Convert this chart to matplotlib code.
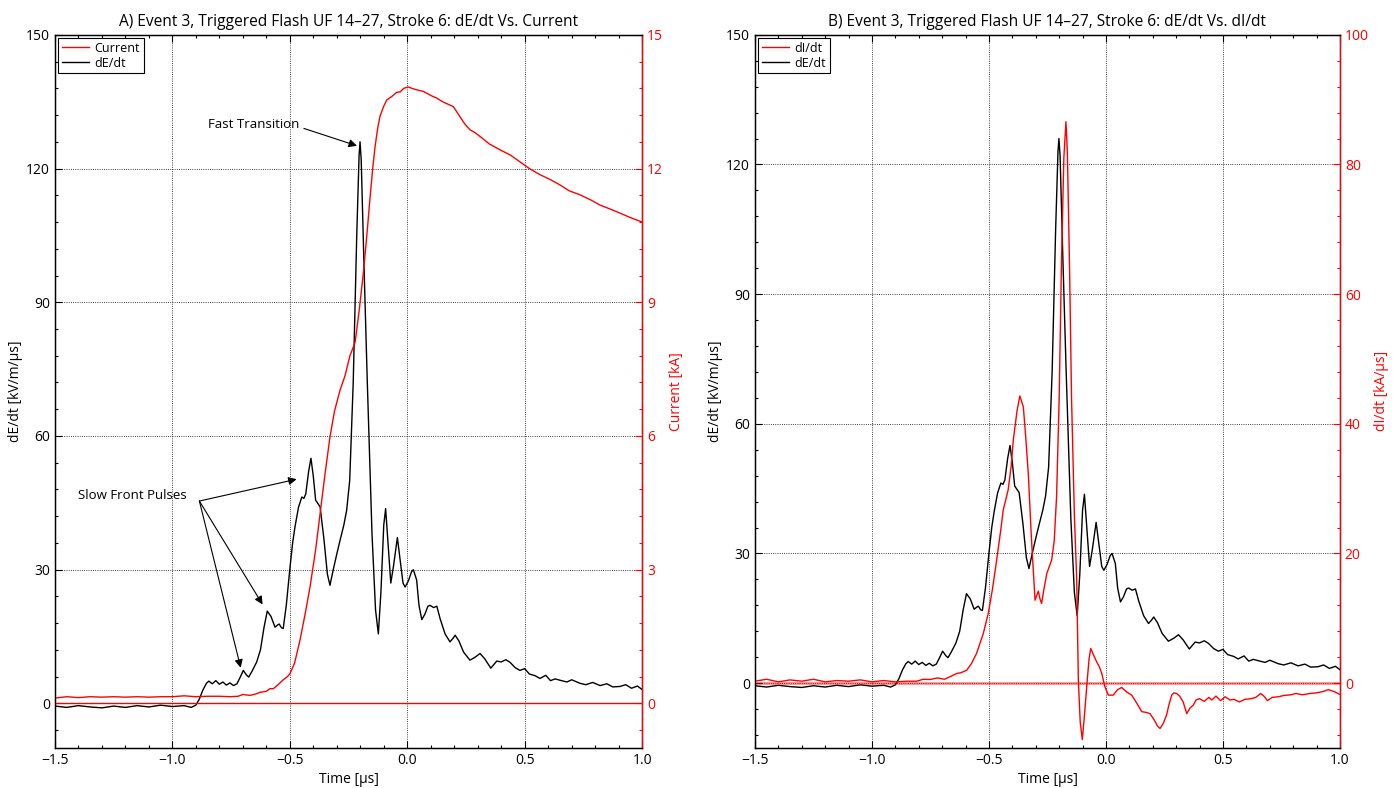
import matplotlib
matplotlib.use("Agg")
import matplotlib.pyplot as plt
from matplotlib.ticker import MultipleLocator
from matplotlib.lines import Line2D

plt.rcParams['font.family'] = ['Open Sans', 'DejaVu Sans']

# dE/dt waveform (kV/m/us), shared by both panels
t_de = [-1.5, -1.45, -1.4, -1.35, -1.3, -1.25, -1.2, -1.15, -1.1, -1.05, -1.0, -0.95,
        -0.92, -0.90, -0.885, -0.87, -0.855, -0.845, -0.83, -0.815, -0.80, -0.785, -0.77,
        -0.755, -0.74, -0.725, -0.71, -0.698, -0.685, -0.675, -0.66, -0.641, -0.625, -0.61,
        -0.596, -0.58, -0.563, -0.552, -0.545, -0.536, -0.528, -0.515, -0.499, -0.488,
        -0.478, -0.463, -0.449, -0.44, -0.432, -0.42, -0.41, -0.40, -0.39, -0.38, -0.371,
        -0.355, -0.34, -0.329, -0.315, -0.30, -0.286, -0.27, -0.258, -0.245, -0.23, -0.215,
        -0.205, -0.201, -0.196, -0.185, -0.170, -0.15, -0.135, -0.123, -0.112, -0.1, -0.092,
        -0.082, -0.07, -0.058, -0.042, -0.03, -0.018, -0.009, 0.005, 0.018, 0.026, 0.040,
        0.05, 0.062, 0.075, 0.088, 0.097, 0.112, 0.126, 0.14, 0.161, 0.182, 0.195, 0.204,
        0.22, 0.24, 0.267, 0.29, 0.31, 0.33, 0.356, 0.381, 0.40, 0.42, 0.438, 0.46, 0.48,
        0.50, 0.52, 0.545, 0.565, 0.59, 0.61, 0.63, 0.65, 0.68, 0.70, 0.736, 0.76, 0.79,
        0.821, 0.85, 0.875, 0.906, 0.93, 0.955, 0.98, 1.0]
de_dt = [-0.6, -0.9, -0.5, -0.8, -1.0, -0.6, -0.9, -0.5, -0.8, -0.4, -0.7, -0.5,
         -0.9, -0.4, 1.0, 3.0, 4.5, 5.0, 4.4, 5.1, 4.3, 4.8, 4.1,
         4.6, 4.0, 4.4, 6.0, 7.4, 6.4, 5.9, 7.3, 9.3, 12.0, 17.0,
         20.7, 19.5, 17.1, 17.6, 17.8, 17.0, 16.8, 22.0, 30.6, 36.0,
         39.6, 44.0, 46.3, 46.0, 47.0, 52.0, 55.0, 51.0, 45.6, 44.8, 44.1,
         37.0, 29.0, 26.5, 30.0, 33.5, 36.6, 40.0, 43.3, 50.0, 72.0, 105.0,
         123.0, 126.0, 122.0, 100.0, 72.0, 38.0, 21.0, 15.6, 25.0, 40.0, 43.7,
         36.0, 27.0, 31.0, 37.2, 32.0, 27.0, 26.1, 27.5, 29.5, 30.0, 27.7,
         22.0, 18.8, 20.0, 21.8, 22.0, 21.5, 21.8, 19.0, 15.6, 13.8, 14.6, 15.3,
         14.0, 11.5, 9.7, 10.4, 11.2, 10.0, 7.9, 9.5, 9.3, 9.8, 9.2, 8.0, 7.4,
         7.8, 6.6, 6.2, 5.6, 6.3, 5.1, 5.5, 5.2, 4.8, 5.3, 4.5, 4.2, 4.7,
         4.0, 4.4, 3.7, 3.8, 4.2, 3.4, 3.9, 3.1]

# channel-base current (kA), panel A
t_cur = [-1.5, -1.45, -1.4, -1.35, -1.3, -1.25, -1.2, -1.15, -1.1, -1.05, -1.0, -0.95,
         -0.9, -0.85, -0.8, -0.755, -0.72, -0.70, -0.67, -0.645, -0.627, -0.60, -0.585,
         -0.570, -0.55, -0.528, -0.510, -0.499, -0.48, -0.457, -0.435, -0.414, -0.39,
         -0.371, -0.35, -0.329, -0.31, -0.286, -0.265, -0.244, -0.222, -0.205, -0.187,
         -0.172, -0.158, -0.147, -0.137, -0.126, -0.116, -0.10, -0.087, -0.065, -0.045,
         -0.03, -0.015, 0.005, 0.025, 0.045, 0.069, 0.09, 0.108, 0.126, 0.15, 0.175,
         0.196, 0.22, 0.245, 0.267, 0.29, 0.31, 0.35, 0.395, 0.44, 0.48, 0.52, 0.566,
         0.61, 0.651, 0.69, 0.736, 0.78, 0.821, 0.86, 0.906, 0.95, 1.0]
current = [0.12, 0.15, 0.13, 0.15, 0.14, 0.15, 0.14, 0.15, 0.14, 0.15, 0.15, 0.17,
           0.15, 0.16, 0.16, 0.15, 0.16, 0.20, 0.18, 0.21, 0.25, 0.27, 0.33,
           0.33, 0.42, 0.53, 0.60, 0.67, 0.90, 1.41, 2.0, 2.61, 3.45,
           4.26, 5.15, 5.98, 6.55, 7.03, 7.35, 7.8, 8.1, 8.8, 9.65,
           10.5, 11.37, 12.0, 12.49, 12.9, 13.17, 13.4, 13.54, 13.62, 13.71,
           13.72, 13.8, 13.83, 13.79, 13.76, 13.73, 13.67, 13.62, 13.58, 13.5, 13.44,
           13.39, 13.2, 13.0, 12.87, 12.8, 12.72, 12.55, 12.42, 12.3, 12.15, 12.0, 11.86,
           11.75, 11.63, 11.5, 11.41, 11.3, 11.18, 11.1, 11.0, 10.9, 10.8]

# current derivative (kA/us), panel B
t_di = [-1.5, -1.45, -1.4, -1.35, -1.3, -1.25, -1.2, -1.15, -1.1, -1.05, -1.0, -0.95,
        -0.9, -0.85, -0.809, -0.78, -0.752, -0.72, -0.69, -0.667, -0.638, -0.62, -0.595,
        -0.575, -0.553, -0.524, -0.503, -0.485, -0.467, -0.45, -0.439, -0.418, -0.405,
        -0.396, -0.38, -0.368, -0.353, -0.343, -0.332, -0.318, -0.303, -0.296, -0.289,
        -0.282, -0.275, -0.265, -0.253, -0.232, -0.221, -0.211, -0.200, -0.19, -0.18,
        -0.171, -0.165, -0.156, -0.147, -0.135, -0.125, -0.118, -0.11, -0.101, -0.092,
        -0.080, -0.072, -0.065, -0.055, -0.040, -0.028, -0.018, -0.005, 0.01, 0.031,
        0.05, 0.067, 0.09, 0.11, 0.13, 0.153, 0.17, 0.188, 0.205, 0.22, 0.231, 0.245,
        0.259, 0.27, 0.281, 0.29, 0.302, 0.315, 0.33, 0.345, 0.36, 0.373, 0.385, 0.399,
        0.42, 0.44, 0.452, 0.47, 0.49, 0.509, 0.53, 0.547, 0.57, 0.594, 0.62, 0.64,
        0.661, 0.675, 0.690, 0.71, 0.737, 0.76, 0.79, 0.812, 0.84, 0.870, 0.9, 0.927,
        0.95, 0.975, 1.0]
di_dt = [0.3, 0.6, 0.2, 0.5, 0.3, 0.6, 0.2, 0.4, 0.3, 0.5, 0.2, 0.4,
         0.2, 0.3, 0.3, 0.6, 0.56, 0.8, 0.6, 0.98, 1.49, 1.6, 2.0,
         3.0, 4.58, 7.67, 10.76, 14.5, 19.0, 23.5, 26.7, 29.8, 33.5,
         37.5, 42.0, 44.3, 42.6, 38.0, 32.4, 22.0, 12.8, 13.5, 14.2,
         13.0, 12.3, 14.5, 16.9, 19.0, 22.0, 28.8, 43.8, 65.0, 81.0,
         86.6, 82.0, 65.0, 43.8, 26.0, 15.9, 0.46, -6.0, -8.7, -5.0,
         0.46, 3.8, 5.35, 4.5, 3.3, 2.5, 1.5, -0.5, -1.85, -1.85,
         -1.0, -0.67, -1.4, -1.85, -3.0, -4.4, -4.5, -4.7, -5.6, -6.6, -7.0, -6.2,
         -4.9, -3.2, -1.85, -1.5, -1.6, -2.0, -2.9, -4.7, -3.8, -3.4, -2.6, -2.4,
         -2.8, -2.2, -2.6, -2.0, -2.7, -2.1, -2.6, -2.5, -2.9, -2.5, -2.4, -2.2,
         -1.6, -2.0, -2.7, -2.2, -2.1, -1.9, -1.8, -1.6, -1.8, -1.6, -1.5, -1.3,
         -1.0, -1.3, -1.75]

TICK_FS = 10
ARROW = dict(arrowstyle='-|>', color='k', lw=0.8, mutation_scale=12, shrinkA=0, shrinkB=0)


def style_axes(ax, tw, ylim, tw_ylim, tw_major, tw_minor, tw_label):
    ax.set_xlim(-1.5, 1.0)
    ax.set_ylim(*ylim)
    tw.set_ylim(*tw_ylim)
    ax.xaxis.set_major_locator(MultipleLocator(0.5))
    ax.xaxis.set_minor_locator(MultipleLocator(0.1))
    ax.yaxis.set_minor_locator(MultipleLocator(6))
    tw.yaxis.set_minor_locator(MultipleLocator(tw_minor))
    ax.set_yticks([0, 30, 60, 90, 120, 150])
    tw.set_yticks([v * tw_major for v in range(0, 6)])
    ax.tick_params(which='both', direction='in', top=True, right=False,
                   labelsize=TICK_FS, width=0.8)
    ax.tick_params(which='major', length=5)
    ax.tick_params(which='minor', length=2.5)
    tw.tick_params(which='both', direction='in', colors='red', labelsize=TICK_FS, width=0.8)
    tw.tick_params(which='major', length=5)
    tw.tick_params(which='minor', length=2.5)
    tw.spines['right'].set_color('red')
    for sp in ax.spines.values():
        sp.set_linewidth(1.0)
    ax.grid(True, which='major', color='k', linestyle=':', linewidth=0.6)
    ax.set_xlabel('Time [µs]', fontsize=TICK_FS, labelpad=3)
    ax.set_ylabel('dE/dt [kV/m/µs]', fontsize=TICK_FS, labelpad=2)
    tw.set_ylabel(tw_label, fontsize=TICK_FS, color='red', labelpad=4)


def add_legend(tw, labels):
    handles = [Line2D([], [], color='red', lw=1.0), Line2D([], [], color='k', lw=1.0)]
    leg = tw.legend(handles, labels, loc='upper left', fontsize=9,
                    fancybox=False, framealpha=1, edgecolor='k', borderpad=0.3,
                    labelspacing=0.15, handlelength=2.2, handletextpad=0.4,
                    borderaxespad=0.25)
    leg.get_frame().set_linewidth(0.8)


fig = plt.figure(figsize=(13.98, 7.88), dpi=100)
axA = fig.add_axes([0.0393, 0.0508, 0.42, 0.905])
axB = fig.add_axes([0.540, 0.0508, 0.4185, 0.905])
twA = axA.twinx()
twB = axB.twinx()

# Panel A
axA.plot(t_de, de_dt, color='k', lw=1.0)
twA.plot(t_cur, current, color='red', lw=1.0)
twA.axhline(0, color='red', lw=1.0)
style_axes(axA, twA, (-10, 150), (-1.0, 15.0), 3, 0.6, 'Current [kA]')
axA.set_title('A) Event 3, Triggered Flash UF 14\u201327, Stroke 6: dE/dt Vs. Current',
              fontsize=11.2, pad=6)
axA.text(-0.848, 129.8, 'Fast Transition', fontsize=9.5, va='center', ha='left')
axA.annotate('', xy=(-0.214, 125.1), xytext=(-0.44, 129.0), arrowprops=ARROW)
for tip in [(-0.471, 50.3), (-0.616, 22.2), (-0.709, 8.0)]:
    axA.annotate('', xy=tip, xytext=(-0.885, 45.4), arrowprops=ARROW)
axA.text(-1.402, 46.7, 'Slow Front Pulses', fontsize=9.5, va='center', ha='left')
add_legend(twA, ['Current', 'dE/dt'])

# Panel B
axB.plot(t_de, de_dt, color='k', lw=1.0)
twB.plot(t_di, di_dt, color='red', lw=1.0)
twB.axhline(0, color='red', lw=2.0, alpha=0.45)
style_axes(axB, twB, (-15, 150), (-10, 100), 20, 4, 'dI/dt [kA/µs]')
axB.set_title('B) Event 3, Triggered Flash UF 14\u201327, Stroke 6: dE/dt Vs. dI/dt',
              fontsize=11.2, pad=6)
add_legend(twB, ['dI/dt', 'dE/dt'])

fig.savefig('out.png', dpi=100)
